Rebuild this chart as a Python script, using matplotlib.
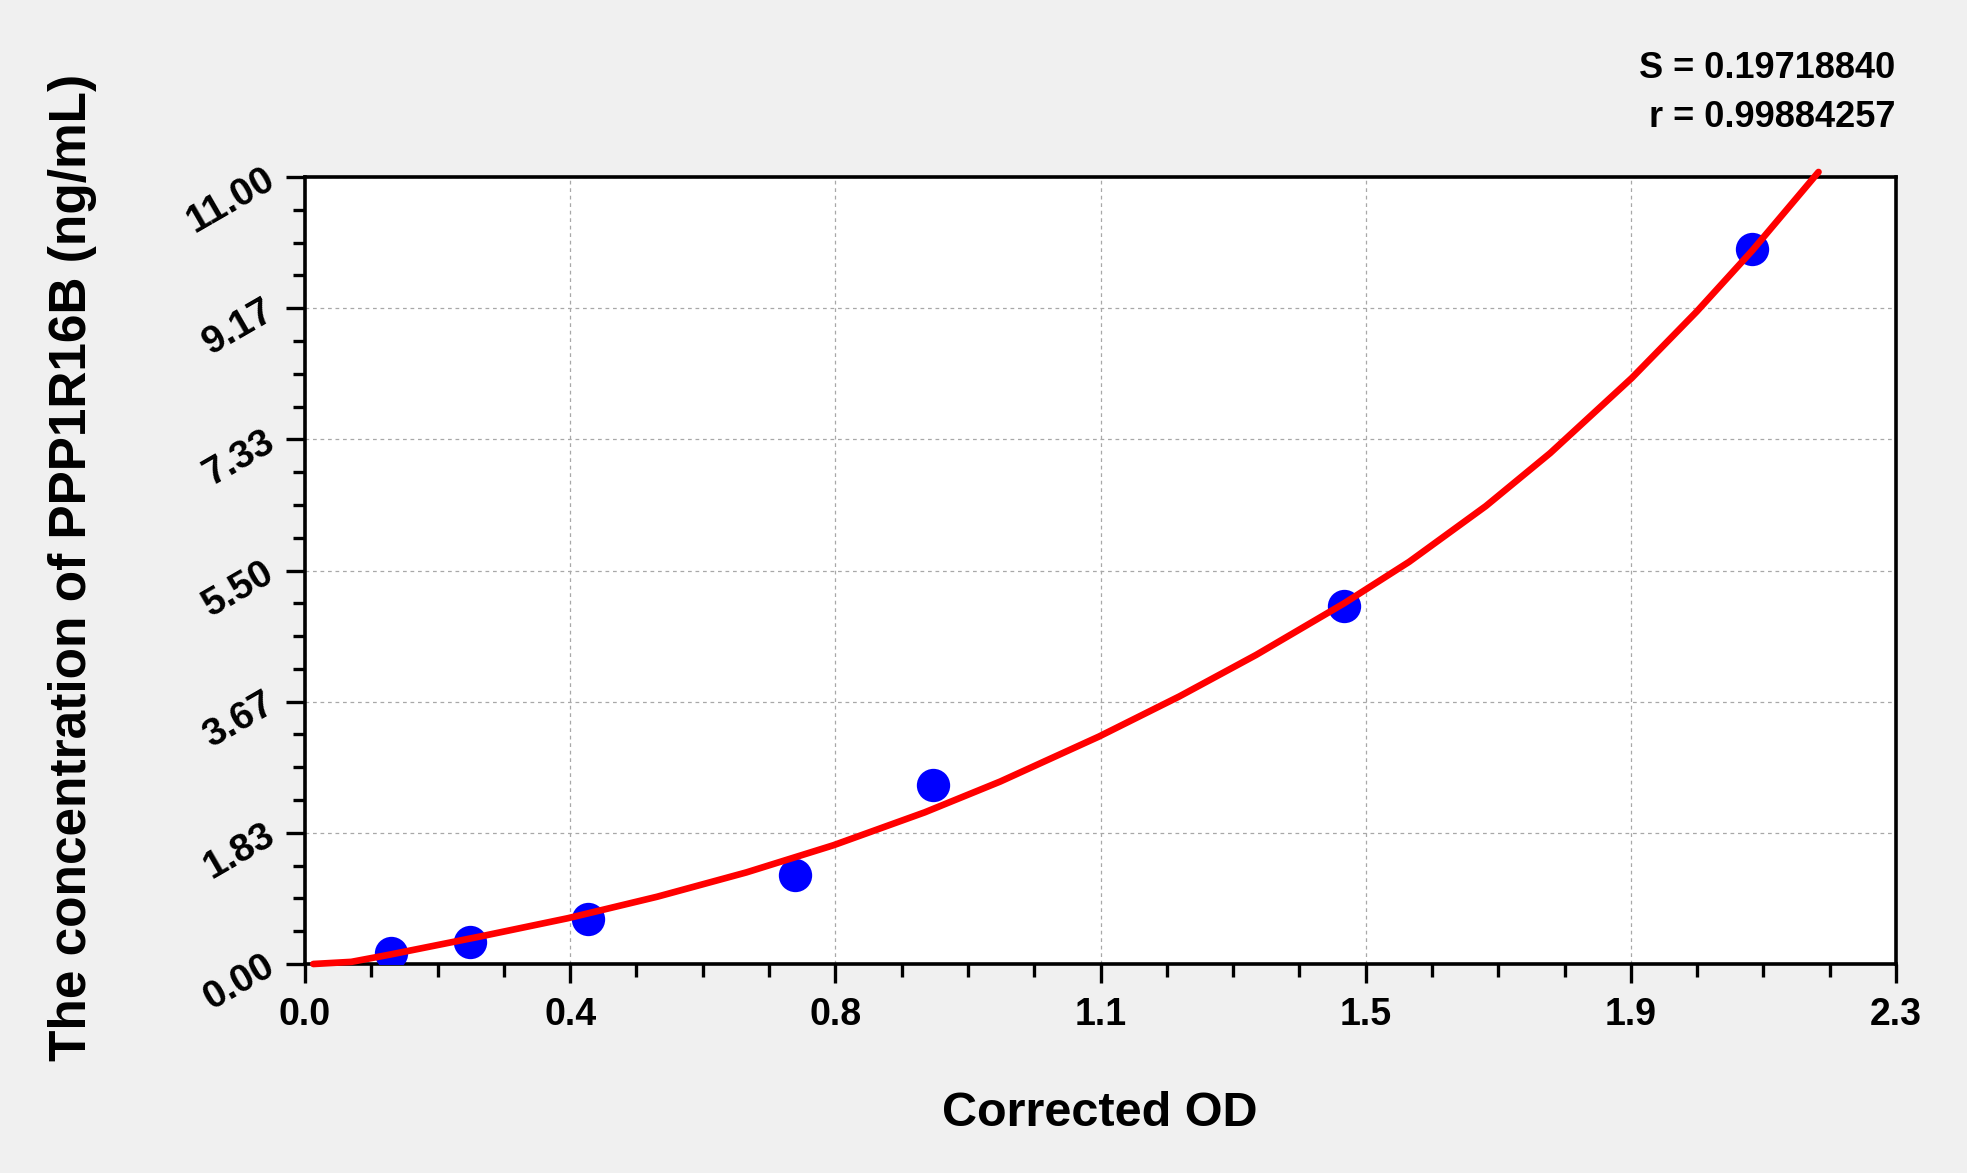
import matplotlib
matplotlib.use("Agg")
import matplotlib.pyplot as plt
import numpy as np
from matplotlib.ticker import AutoMinorLocator

# Standard points (corrected OD vs concentration)
od_points = [0.124, 0.239, 0.409, 0.708, 0.908, 1.502, 2.092]
conc_points = [0.156, 0.312, 0.625, 1.25, 2.5, 5.0, 10.0]

# Fitted curve
curve_od = [0.012, 0.067, 0.122, 0.251, 0.380, 0.509, 0.638, 0.764, 0.896, 1.005,
            1.148, 1.264, 1.375, 1.502, 1.596, 1.707, 1.800, 1.918, 2.012, 2.092, 2.188]
curve_conc = [0.0, 0.03, 0.13, 0.38, 0.64, 0.94, 1.28, 1.66, 2.12, 2.55,
              3.18, 3.74, 4.32, 5.04, 5.62, 6.40, 7.14, 8.19, 9.12, 9.97, 11.07]

x_labels = ["0.0", "0.4", "0.8", "1.1", "1.5", "1.9", "2.3"]
y_labels = ["0.00", "1.83", "3.67", "5.50", "7.33", "9.17", "11.00"]

s_text = "S = 0.19718840"
r_text = "r = 0.99884257"

plt.rcParams['font.family'] = ['Liberation Sans', 'DejaVu Sans']
plt.rcParams['font.weight'] = 'bold'

W, H = 1967, 1173
fig = plt.figure(figsize=(W / 100, H / 100), dpi=100, facecolor='#f0f0f0')
ax = fig.add_axes([305 / W, 1 - 964 / H, (1896 - 305) / W, (964 - 177) / H])
ax.set_facecolor('white')

ax.set_xlim(0, 2.3)
ax.set_ylim(0, 11)

# scatter first, curve on top
ax.plot(od_points, conc_points, 'o', color='#0000ff', markersize=24,
        markeredgewidth=0, zorder=3)
ax.plot(curve_od, curve_conc, '-', color='#ff0000', linewidth=4.8,
        zorder=4, clip_on=False, solid_capstyle='round', solid_joinstyle='round')

ax.set_xticks(np.linspace(0, 2.3, len(x_labels)))
ax.set_xticklabels(x_labels, fontsize=27, fontweight='bold')
ax.set_yticks(np.linspace(0, 11, len(y_labels)))
ax.set_yticklabels(y_labels, fontsize=28, fontweight='bold', rotation=30,
                   ha='right', va='center', rotation_mode='anchor')
ax.xaxis.set_minor_locator(AutoMinorLocator(4))
ax.yaxis.set_minor_locator(AutoMinorLocator(4))

ax.tick_params(which='major', direction='out', length=14, width=2.4, pad=10)
ax.tick_params(which='minor', direction='out', length=9, width=2.4)

for sp in ax.spines.values():
    sp.set_linewidth(2.6)

ax.grid(True, which='major', color='#a8a8a8', linestyle=(0, (3, 3)), linewidth=0.9)
ax.set_axisbelow(True)

fig.text(1100 / W, 1 - 1113 / H, "Corrected OD", fontsize=35, fontweight='bold',
         ha='center', va='center')
fig.text(73 / W, 1 - 567 / H, "The concentration of PPP1R16B (ng/mL)", fontsize=37,
         fontweight='bold', rotation=90, ha='center', va='center')

fig.text(1895 / W, 1 - 78 / H, s_text, fontsize=26, fontweight='bold',
         ha='right', va='baseline')
fig.text(1895 / W, 1 - 127 / H, r_text, fontsize=26, fontweight='bold',
         ha='right', va='baseline')

fig.savefig("out.png", dpi=100, facecolor=fig.get_facecolor())
